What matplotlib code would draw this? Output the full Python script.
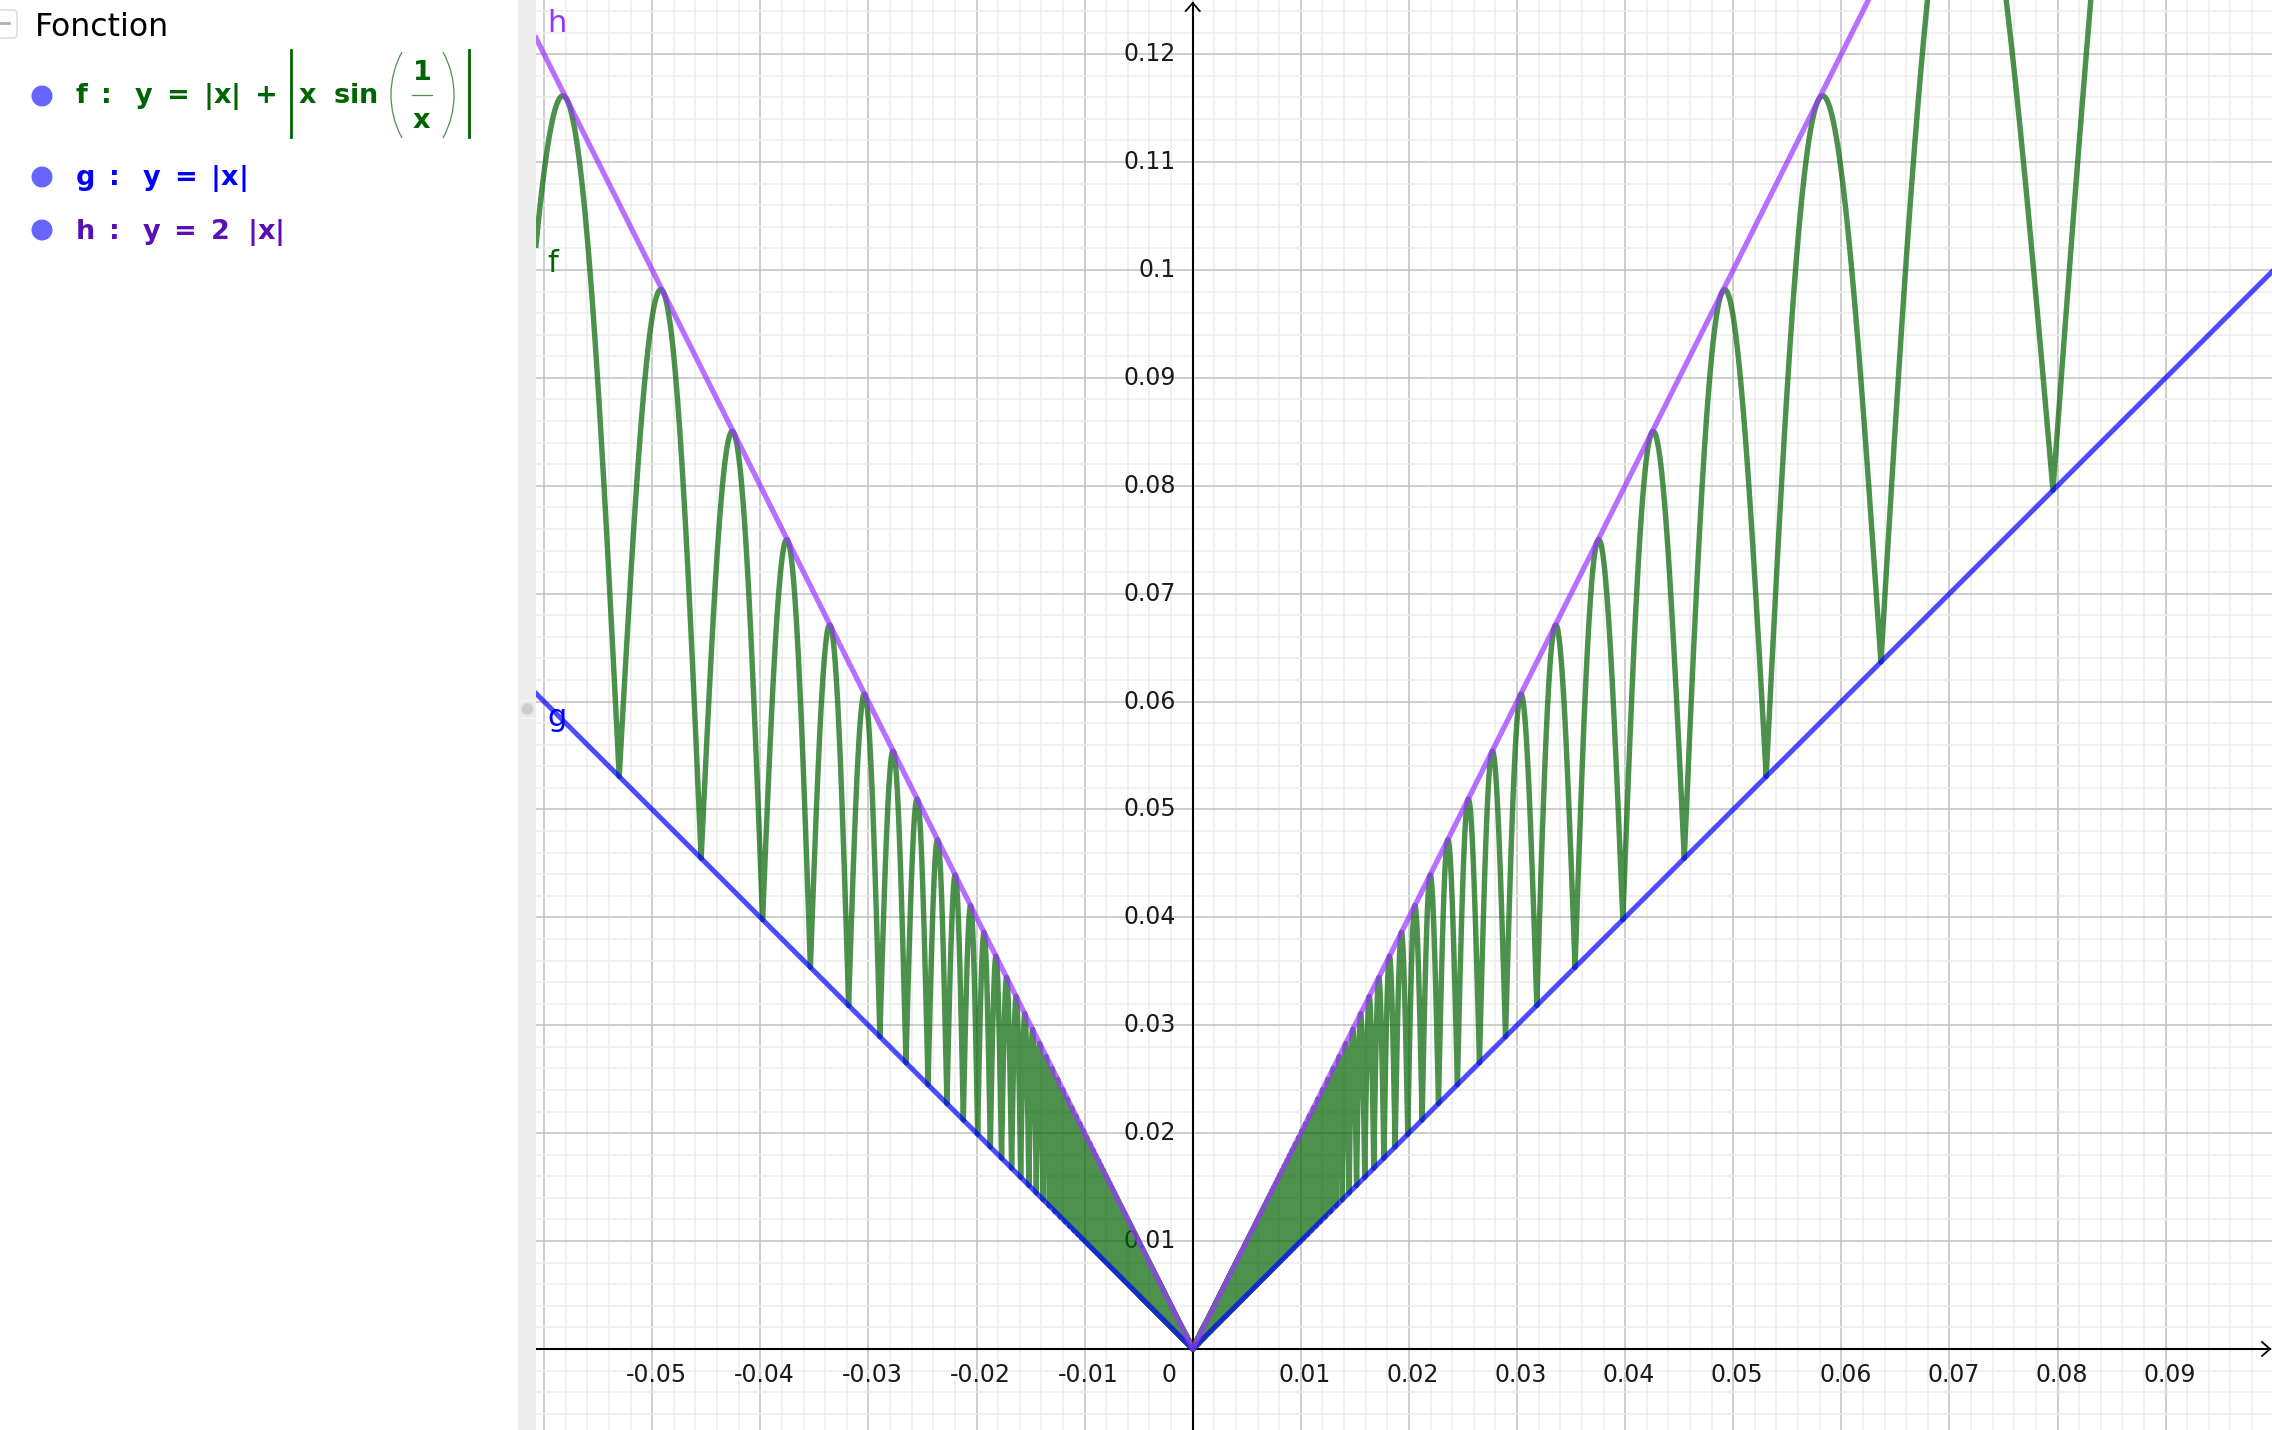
import numpy as np
import matplotlib
matplotlib.use("Agg")
import matplotlib.pyplot as plt
from matplotlib.ticker import MultipleLocator
from matplotlib.transforms import IdentityTransform, offset_copy
from matplotlib.patches import Circle, Rectangle, FancyBboxPatch, Arc
from matplotlib.lines import Line2D

plt.rcParams["font.family"] = ["DejaVu Sans"]
plt.rcParams["mathtext.fontset"] = "dejavusans"
plt.rcParams["agg.path.chunksize"] = 100000
plt.rcParams["path.simplify"] = False

W, H, DPI = 2272, 1430, 100

# ---- data -------------------------------------------------------------
X_VIEW = (-0.06075, 0.09984)
Y_VIEW = (-0.00751, 0.12502)

x_tick_values = [-0.05, -0.04, -0.03, -0.02, -0.01, 0.01, 0.02, 0.03, 0.04, 0.05, 0.06, 0.07, 0.08, 0.09]
x_tick_labels = ["-0.05", "-0.04", "-0.03", "-0.02", "-0.01", "0.01", "0.02", "0.03", "0.04",
                 "0.05", "0.06", "0.07", "0.08", "0.09"]
y_tick_values = [0.01, 0.02, 0.03, 0.04, 0.05, 0.06, 0.07, 0.08, 0.09, 0.10, 0.11, 0.12]
y_tick_labels = ["0.01", "0.02", "0.03", "0.04", "0.05", "0.06", "0.07", "0.08", "0.09", "0.1", "0.11", "0.12"]

function_names = ["f", "g", "h"]
f_def_head = r"$\mathbf{f\ :\ \ y\ =\ |x|\ +}$"
f_def_inner = r"$\mathbf{x\ \ sin}$"
f_def_num, f_def_den = "1", "x"
g_def = r"$\mathbf{g\ :\ \ y\ =\ |x|}$"
h_def = r"$\mathbf{h\ :\ \ y\ =\ 2\ \ |x|}$"


def f(x):
    with np.errstate(divide="ignore", invalid="ignore"):
        y = np.abs(x) + np.abs(x * np.sin(1.0 / x))
    return np.where(x == 0, 0.0, y)


def g(x):
    return np.abs(x)


def h(x):
    return 2 * np.abs(x)


# ---- figure -----------------------------------------------------------
fig = plt.figure(figsize=(W / DPI, H / DPI), dpi=DPI)
fig.patch.set_facecolor("white")
idt = IdentityTransform()


def P(x, y):
    return x / W, 1 - y / H


PANEL_X = 536
ax = fig.add_axes([PANEL_X / W, 0, (W - PANEL_X) / W, 1])
ax.set_xlim(*X_VIEW)
ax.set_ylim(*Y_VIEW)
for s in ax.spines.values():
    s.set_visible(False)
ax.xaxis.set_major_locator(MultipleLocator(0.01))
ax.xaxis.set_minor_locator(MultipleLocator(0.002))
ax.yaxis.set_major_locator(MultipleLocator(0.01))
ax.yaxis.set_minor_locator(MultipleLocator(0.002))
ax.tick_params(which="both", length=0, labelbottom=False, labelleft=False)
ax.set_axisbelow(True)
ax.grid(which="minor", color="#ececec", lw=1.1)
ax.grid(which="major", color="#c0c0c0", lw=1.1)

# axes lines with arrows (pixel space)
ox, oy = ax.transData.transform((0, 0))
ax.add_line(Line2D([ox, ox], [0, H - 3], color="black", lw=1.5, transform=idt, zorder=1.6, clip_on=False))
ax.add_line(Line2D([PANEL_X, W - 2], [oy, oy], color="black", lw=1.5, transform=idt, zorder=1.6, clip_on=False))
ax.add_line(Line2D([ox - 7, ox, ox + 7], [H - 11, H - 3, H - 11], color="black", lw=1.3,
                   transform=idt, zorder=1.6, clip_on=False))
ax.add_line(Line2D([W - 10, W - 2, W - 10], [oy + 7, oy, oy - 7], color="black", lw=1.3,
                   transform=idt, zorder=1.6, clip_on=False))

# tick labels
xlab_tr = offset_copy(ax.transData, fig=fig, x=4, y=-14, units="dots")
for v, t in zip(x_tick_values, x_tick_labels):
    ax.text(v, 0, t, transform=xlab_tr, ha="center", va="top", fontsize=17, color="#1a1a1a", zorder=1.7)
ylab_tr = offset_copy(ax.transData, fig=fig, x=-17, y=0, units="dots")
for v, t in zip(y_tick_values, y_tick_labels):
    ax.text(0, v, t, transform=ylab_tr, ha="right", va="center", fontsize=17, color="#1a1a1a", zorder=1.7)
ax.text(0, 0, "0", transform=offset_copy(ax.transData, fig=fig, x=-16, y=-14, units="dots"),
        ha="right", va="top", fontsize=17, color="#1a1a1a", zorder=1.7)

# curves
xs = np.linspace(X_VIEW[0], X_VIEW[1], 1_200_001)
ax.plot(xs, f(xs), color=(0, 100 / 255, 0, 0.7), lw=3.9, zorder=3, solid_joinstyle="round")
xl = np.array([X_VIEW[0], 0.0, X_VIEW[1]])
ax.plot(xl, g(xl), color=(0, 0, 1, 0.7), lw=3.6, zorder=4)
ax.plot(xl, h(xl), color=(0.6, 0.2, 1.0, 0.7), lw=3.8, zorder=5)

# curve labels
fig.text(*P(547, 32), "h", color="#9933ff", fontsize=22, ha="left", va="baseline")
fig.text(*P(547, 272), "f", color="#006400", fontsize=22, ha="left", va="baseline")
fig.text(*P(547, 726), "g", color="#0000ff", fontsize=22, ha="left", va="baseline")

# ---- algebra panel ----------------------------------------------------
fig.add_artist(Rectangle((518, 0), PANEL_X - 518, H, fc="#ececec", ec="none", transform=idt))
fig.add_artist(Line2D([518, PANEL_X], [H - 700, H - 700], color="#f6f6f6", lw=1, transform=idt))
fig.add_artist(Line2D([518, PANEL_X], [H - 718, H - 718], color="#f6f6f6", lw=1, transform=idt))
fig.add_artist(Circle((527.5, H - 709), 6, fc="#cbcbcb", ec="#dedede", lw=1, transform=idt))

fig.add_artist(FancyBboxPatch((-12, H - 38), 29, 28, boxstyle="round,pad=0,rounding_size=4",
                              fc="white", ec="#dddddd", lw=1.2, transform=idt))
fig.add_artist(Line2D([0, 9], [H - 23, H - 23], color="#b0b0b0", lw=2, transform=idt))
fig.text(*P(35, 36), "Fonction", fontsize=22.7, color="black", ha="left", va="baseline")

for yb in [96, 177, 230]:
    fig.add_artist(Circle((42, H - yb), 10.5, fc="#6666ff", ec="none", transform=idt))

EQ_FS = 19.5
F_COL, F_LIGHT = "#006400", "#4c924c"
# f : y = |x| + |x sin(1/x)|
fig.text(*P(75, 103), f_def_head, fontsize=EQ_FS, color=F_COL, ha="left", va="baseline")
for bx in (291, 469):
    fig.add_artist(Line2D([bx, bx], [H - 50, H - 137], color=F_COL, lw=2.0, transform=idt))
fig.text(*P(298, 103), f_def_inner, fontsize=EQ_FS, color=F_COL, ha="left", va="baseline")
R = 89.5
half = np.degrees(np.arcsin(43 / R))
fig.add_artist(Arc((391 + R, H - 95), 2 * R, 2 * R, theta1=180 - half, theta2=180 + half,
                   color=F_LIGHT, lw=0.9, transform=idt))
fig.add_artist(Arc((454 - R, H - 95), 2 * R, 2 * R, theta1=-half, theta2=half,
                   color=F_LIGHT, lw=0.9, transform=idt))
fig.text(*P(422, 80), r"$\mathbf{%s}$" % f_def_num, fontsize=EQ_FS, color=F_COL, ha="center", va="baseline")
fig.add_artist(Line2D([412, 432], [H - 95, H - 95], color=F_LIGHT, lw=0.9, transform=idt))
fig.text(*P(422, 128), r"$\mathbf{%s}$" % f_def_den, fontsize=EQ_FS, color=F_COL, ha="center", va="baseline")

fig.text(*P(75, 185), g_def, fontsize=EQ_FS, color="#0000ff", ha="left", va="baseline")
fig.text(*P(75, 239), h_def, fontsize=EQ_FS, color="#5a0fb4", ha="left", va="baseline")

fig.savefig("out.png", dpi=DPI, facecolor="white")
